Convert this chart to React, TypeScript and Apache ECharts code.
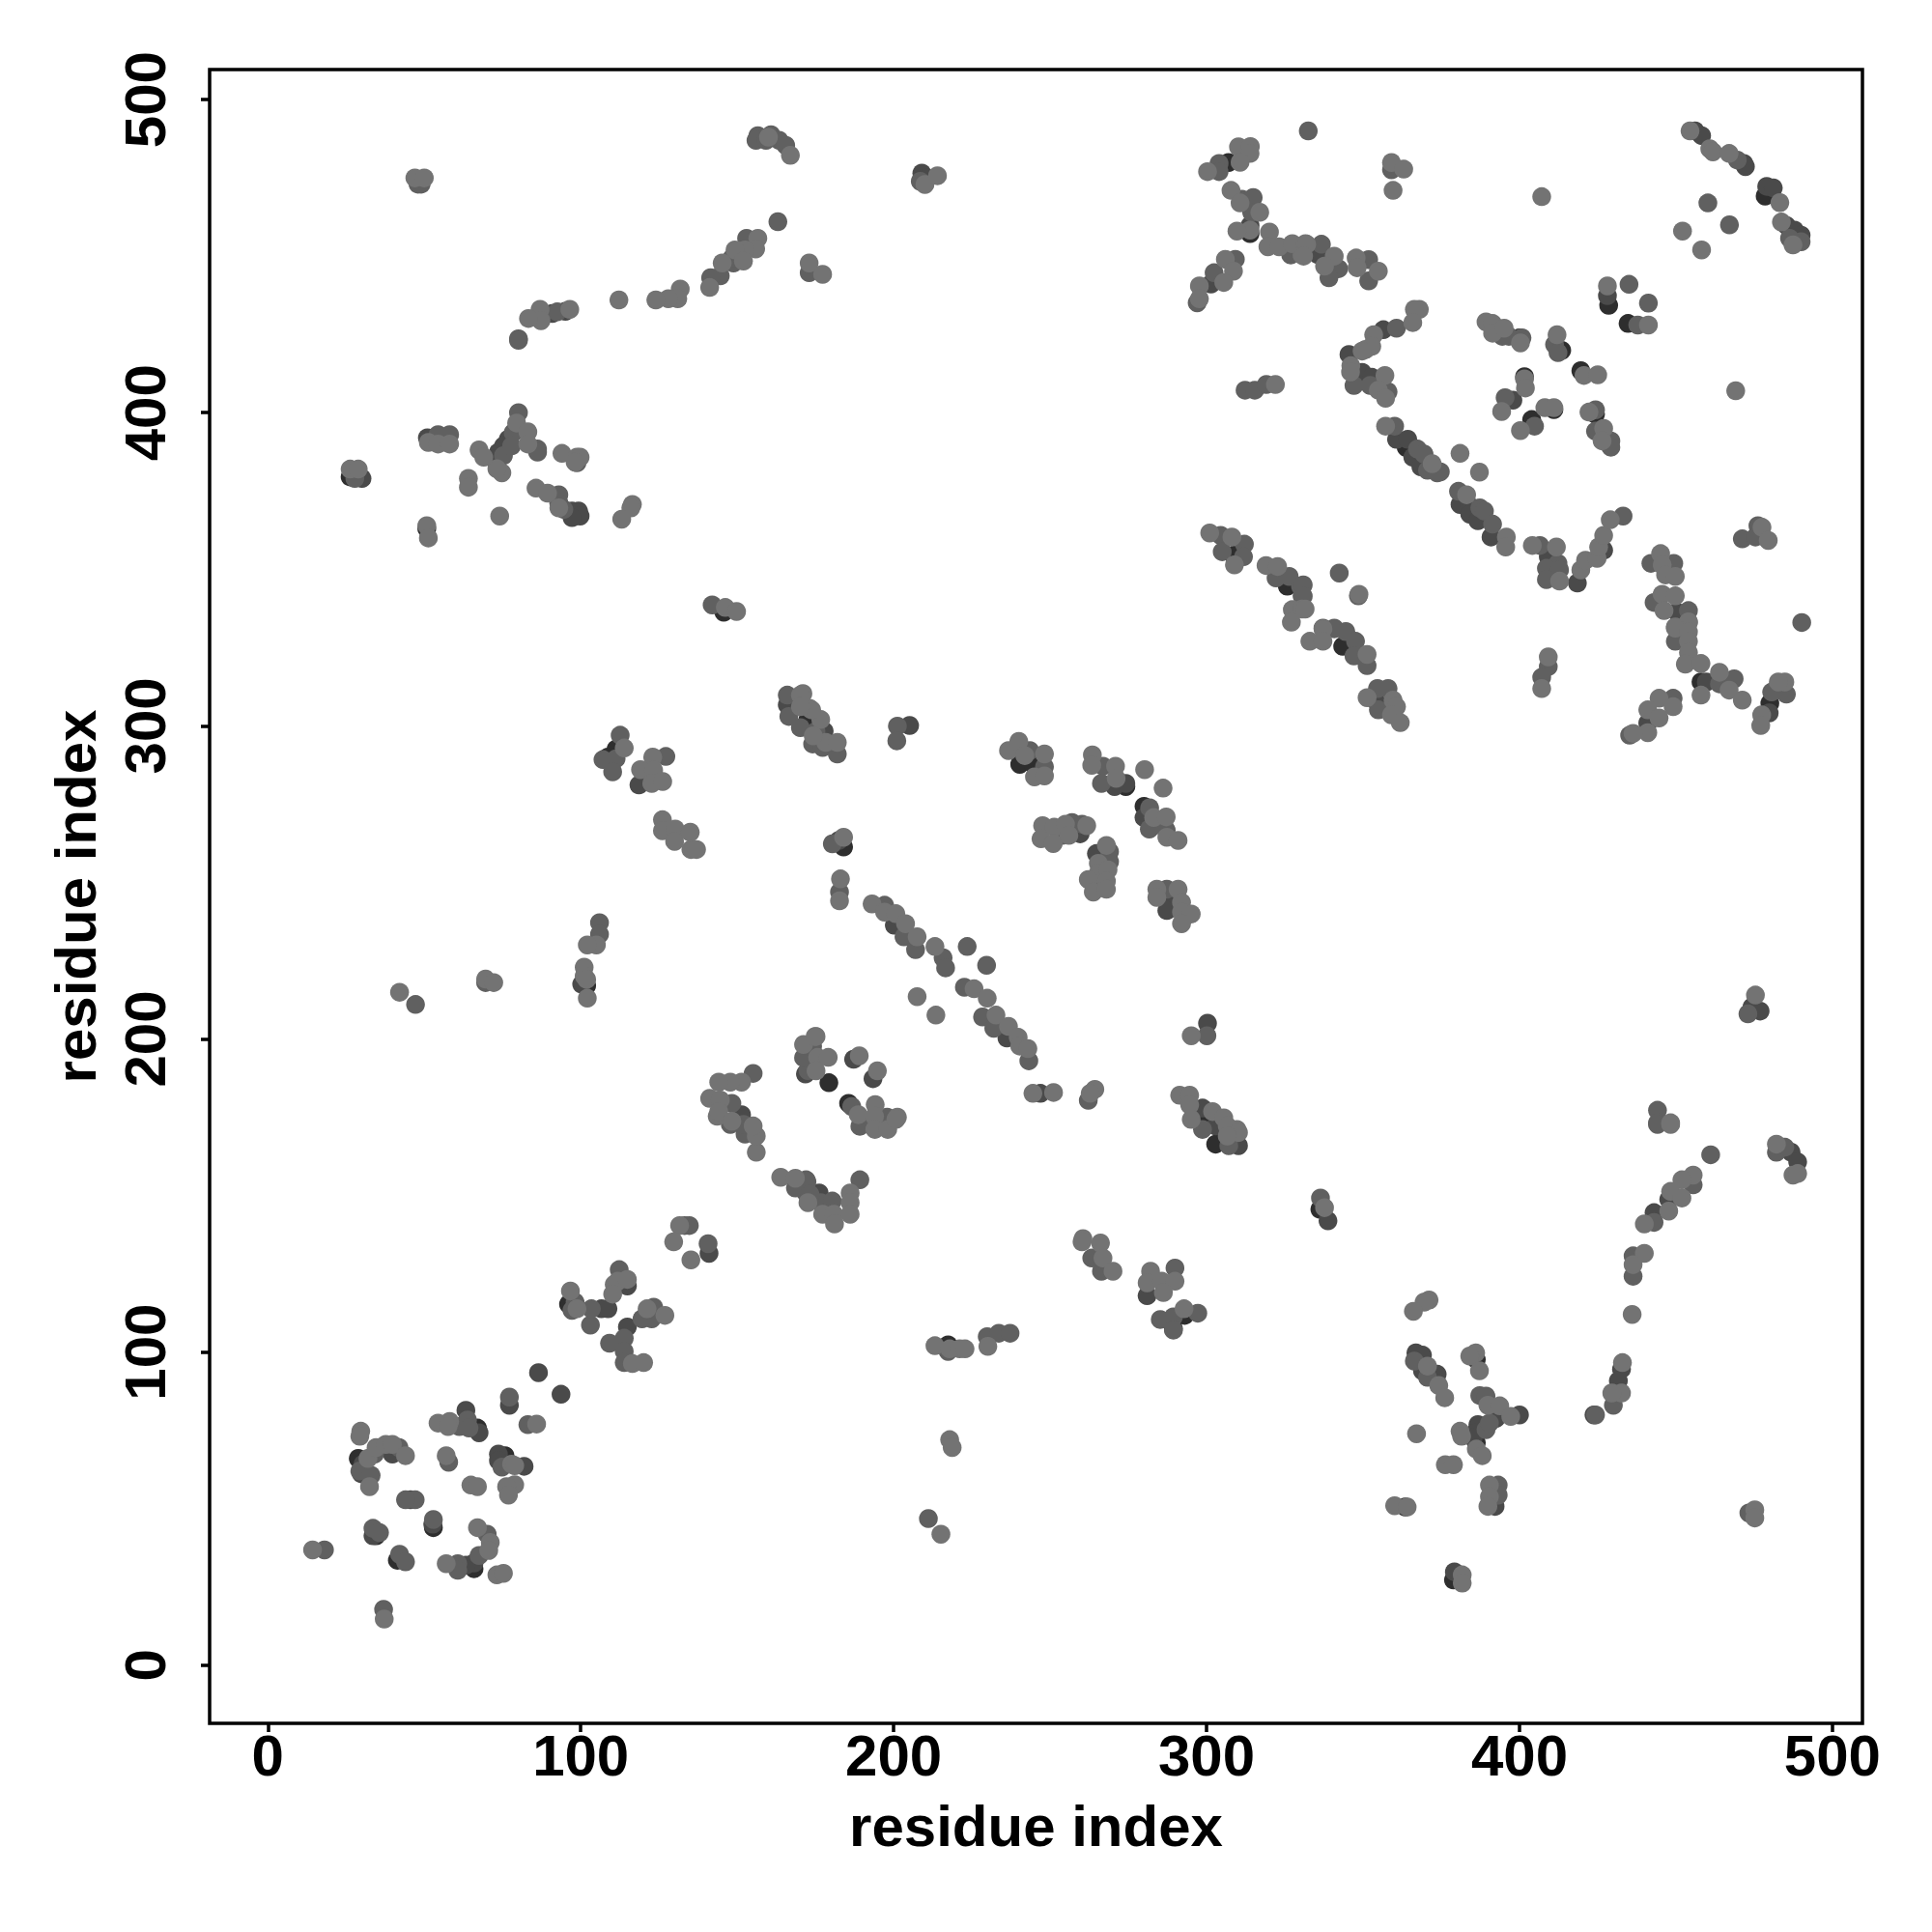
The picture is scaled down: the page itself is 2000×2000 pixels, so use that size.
import React, { useEffect, useRef } from "react";
import * as echarts from "echarts";

const tickValues = [0, 100, 200, 300, 400, 500];
const axisTitle = "residue index";

const hiddenDarkPoints = [
[145.7,336.3],[307,479.9],[313.9,457.2],[325.8,344.6],[308.6,354.5],[400,423.9],[413.5,419.9],[419.6,413.4],[401.6,411.5],[411,401],[403.9,397.8],[424.3,399.5],[428.5,434.3],[434.7,428.5],[478.5,469.2],[363.8,388.9],[343.5,325.4],[458,314],[480,307.2],[172.6,302],[240.3,287.7],[244.5,287.9],[274.2,280.6],[280,274.3],[184,261.3],[299.3,173.7],[302.9,166.4],[336.2,145.6],[289.4,107.5],[293,111.7],[217.4,102.3],[363.5,50.5],[378.9,27.2],[386.2,71],[386.2,97.6],[101.9,217],[111.3,292.6],[108.7,290],[28.9,66],[34.6,41.3],[41.4,33.5],[52.9,43.9],[67,75.7],[75.8,66.9],[65.9,30.8],[96.1,115.3],[185.6,179.4],[179.3,186],[26.3,379.5],[50.8,363]
];

const midPoints = [
[48,473],[49,473],[156.6,488.5],[156,487],[160.8,488.8],[159.2,487],[163.4,487],[165.5,485.4],[163,461],[153,455.7],[148.8,447.8],[148.3,449.4],[144.6,443.7],[141.5,443.1],[92.5,432.2],[87.8,431.7],[80.1,423.6],[80.1,423.1],[80.1,400],[78.4,393.6],[75.3,386.3],[77.9,389.4],[86.2,388.4],[86.2,387.4],[98.8,384],[54.4,393],[58.1,393],[27.8,379],[93,373.8],[93,371.2],[94.6,369.1],[142,338.6],
[332.5,490],[173,444.7],[208.5,473.9],[304,479.6],[304,477],[311.3,468.2],[314.9,468.7],[314.4,464],[326.9,450.4],[309.2,449],[302.4,444.7],[297,435.1],[312.3,407.2],[315.4,407.2],[319.1,409],[304.5,360.8],[305,355.6],[312.1,358],[311.8,354],[322.2,347.2],[326.4,347.7],[330,344.6],[330.5,341.5],
[359.1,477.6],[336.7,453.8],[342.2,446],[339.1,443.1],[351.8,448.9],[351.8,442.1],[360.7,427],[347.1,408.7],[352.3,408.7],[358,406.7],[360.1,395.7],[367.4,388.4],[369.5,386.8],[370.6,381.6],[373.7,380.8],[374.7,381.1],[380.5,374.9],[387.3,369.6],[388.8,368.6],[391.4,364.4],[406.5,357.6],[412.3,351.9],[408.6,350.3],[412.8,349.8],[408.6,346.7],[433.1,367],[342.4,348.8],[348.5,341.5],[330.9,345],[330.9,341.4],[340.8,331],[394.5,424.4],[396.6,424.4],[400.8,423.9],[411.2,421.8],[412.3,419.2],[395.4,404.8],[404.8,395.7],[424.3,400.9],[424.3,394.1],[429.2,391],[429.2,389],[435,441],[441.2,435],[437.8,428],[469.6,480.7],[490,454.6],[486.3,455.7],[460.2,467],[467.1,460],[471.2,359.7],[476.2,363.9],[475.4,360.3],[442,351.9],[449.3,351.9],[443,339.4],[454,336.8],
[490.2,333],[449.8,327],[463.9,313.4],[468.6,315],[449.1,308.8],[435.2,297],[485.3,310.1],[480.6,310.8],[409.2,318.9],[407.1,315.5],[337.2,331.2],[340.8,331.2],[344.5,330.1],[347.6,327],[347.1,322.3],[351.3,319.2],[354.6,311.9],[358,311.9],[354.9,305.1],[444.1,177.2],[444.1,173.2],[473,208],
[174.1,294.2],[177.3,293.1],[175.2,298.3],[182,291],[201.2,299.9],[201,295.2],[243.5,292.1],[248.2,286.9],[266.9,287.1],[266.4,281.6],[281.8,273.8],[281.7,267],[287.1,266.7],[257,269.1],[260.2,268.6],[253.9,265],[269,259.8],[269,256.6],[265.4,249.8],[287.3,247.8],[180.4,262.3],[182.7,246.9],[197.1,242.7],[203.3,232.6],[207,228.5],[215.8,225.9],[216.6,222.7],[223.5,229.5],[229.7,223.5],[222.6,216.5],[228.4,207],[232,203.4],[243.2,193],[300.1,201],[262.2,180.4],[174.1,197.7],[172.6,189.9],[186.6,178.4],[189.2,172.1],[197.9,175],
[172,155],[172,150.8],[176.7,147.7],[180.4,148.2],[189.2,155],[263.3,130],[266.4,125.8],[289.9,126.8],[285.2,110.4],[289.4,111.2],[289.4,107],[297.2,112.4],[217.4,100.2],[229.9,104.9],[233.6,106],[237.2,106],[211.1,46.8],[298.7,171.1],[307.1,165.9],
[444.1,172.7],[461.1,163],[484.8,165.4],[482.1,163.8],[455.5,153.4],[443,141.4],[436.3,130.7],[436.3,124.2],[430,83],[424.3,79.9],[336.4,149.2],[366.4,97.1],[370.6,91.9],[387.3,86.1],[389.3,85.9],[389.3,75.2],[390.4,77.3],[393.2,57.5],[393.2,54.3],[473.3,48.6],
[18.1,36.8],[37,17.8],[29.4,62],[33,60.6],[34.1,67.4],[41.9,69.5],[57.8,64.8],[33.6,43.7],[35.7,42.3],[42.1,35.4],[44,33],[47.1,52.8],[44,52.8],[52.9,46.5],[61.2,76.2],[63.8,78.3],[64.3,75.7],[74.8,63.2],[70.1,41.8],[67.5,35],[60.7,32.4],[60.7,30.3],[77.2,85.6],[83.1,76.8],
[98.2,115.9],[97.2,113.3],[103.1,108.6],[103.4,113.8],[112.3,126.3],[109.2,102.8],[123.3,114.3],[119.6,110.6],[122.7,110.6],[113.9,104.4],[113.9,100.2],[113.9,96.6],[133.2,140.4],[134.7,140.4],[140.7,134.6],[152.5,169.6],[152,172.7],[147.8,172.7],[168.6,152.4],[172.3,154.4],[173.3,150.3],
[112.6,297],[107.1,289.2],[111.3,289.5],[110.2,285.3],[127.2,290.2],[106,237.1],[106,233.4],[69.6,218],[47.2,211],[166,309.8],[166.5,303],[170.2,299.4],[155.1,189],[148.3,179.4],[171.2,194]
];

const lightPoints = [
[47,475],[50,475],[167,482.2],[160,488],[156.6,455.7],[155.9,452.3],[152.5,452],[149.3,452],[152,448.4],[145.2,447.8],[141.2,440],[131.8,439.5],[131,436.4],[128,436.4],[124,436],[112.2,436],[96.5,433],[87,433],[87.3,429.4],[83.3,430.1],[79.5,396.7],[74.8,380.8],[73.2,382.1],[67.5,388.1],[69,385.8],[83.1,393.9],[83.1,390],[94,387],[98.8,385.8],[99.8,385.8],[98.2,384.2],[51.3,390.5],[54.4,390],[58.1,390],[26.3,382],[28.9,382],[64.1,379],[64.1,376.2],[74.1,367],[50.8,363.9],[51.3,360],[85.7,375.9],[89.4,374.3],[93,369.6],[116.5,370.7],[116,369.6],[113.1,366],[146.2,337.8],[149.8,336.5],
[173,447.8],[177.3,444.2],[210,472.9],[214,475.7],[300.3,477],[310.2,484.9],[314,485],[313.9,482.8],[310.7,480],[307.8,471],[310.7,467],[317,464],[313.9,458.3],[309.7,458],[320.1,457.7],[319.6,453],[323.2,453],[327.4,454],[330.5,450.4],[331.6,454],[306,449],[308.6,445.2],[305.5,441.6],[297.7,440.5],[297.7,436.4],[322,409],[301,361.6],[308.1,360.3],[308.9,351.4],[319,351.2],[322.7,350.9],[327.4,337.1],[330.5,337.3],[327.1,333.1],
[359.1,479.9],[363,477.8],[359.6,471],[332,453.8],[331,450],[340.8,450],[337.7,446.8],[347.8,449.4],[348.1,446.3],[354.9,445.2],[368,433],[366.4,433],[365.9,428.8],[353.4,424.9],[350.8,420.2],[352.8,421.2],[349.7,419.7],[346.1,415],[346,413],[357,411.9],[354.9,407.2],[357.2,404.6],[357.2,395.7],[372.1,383.7],[381,387],[387.2,381],[383.1,373.8],[395.8,360.3],[395.6,357.1],[404.1,357.6],[411.8,357.1],[412.8,346.2],[419.6,349.8],[421.1,352.9],[424.8,353.5],[425.3,357.1],[426.9,360.8],[429,365.8],[348.7,342],[331.5,337.3],[337.2,331],
[389.3,429],[391.4,428.5],[391.4,425.4],[395.1,427],[400.3,422.3],[412,424.9],[420.6,411.9],[425,412.1],[401.6,410.8],[401.9,407.9],[394.3,400.4],[408.1,401.6],[411,401.6],[400.3,394.3],[422.2,400.2],[426.9,395],[426.4,391],[428.1,440.5],[441.2,428],[454.5,490],[460.8,484.3],[461.8,483.3],[467,482.8],[483.2,467.1],[483.7,460.9],[487.4,453.6],[452.1,458],[458.2,452],[407.1,469],[469.1,407],[477.5,363.4],[479.5,359.2],[445.1,355],[445.6,351.4],[446.7,348.2],[449.8,347.7],[445.6,342],[449.8,341.5],[446.2,336.8],[454,333],[449.8,331.6],
[454,333.2],[449.8,331.2],[454,330],[454,327],[454,323.4],[453,319.7],[458,319.9],[458,309.8],[463.9,317.1],[467,311.4],[471.2,308.2],[444.6,308.8],[449.1,306.1],[441,305.1],[444.6,302.5],[441,297.8],[436.3,297.6],[484.8,314],[482.7,314],[477.4,303.5],[477.1,300.1],[409.2,322],[407.1,311.9],[333,327],[337.2,327],[351.3,322.8],[351.3,309],[359.6,308.2],[360.7,306.1],[359.1,303.5],[361.9,301],[448.3,173.2],[475.4,214],
[171,310.3],[173.1,305.6],[176.7,302],[178.3,294.7],[182,294.7],[171,306.7],[236.7,292.1],[240,295],[248.2,291],[245,283.7],[248.2,284],[241.9,290.5],[263.5,290.7],[263.3,287.4],[270.9,287.1],[271.1,283.2],[280.2,286],[286.1,280.1],[283.1,270.7],[287.1,270.9],[287.3,264.4],[290.9,263.4],[247.6,268.1],[247.1,263.9],[251.3,267.6],[251,262.4],[254.9,268.6],[261.7,268.1],[256,265],[268,261.8],[265.4,256.1],[265.4,253],[268.5,254],[262.2,250.9],[268,250.4],[263.8,246.9],[268,247.8],[284.1,247.8],[284.1,245.2],[290.9,247.8],[292,243.6],[292,240.5],[295.1,239.9],[292,236.8],[184,264.4],[183,251.1],[182.7,244.1],[193.1,243.1],[197.1,240.5],[200.7,240],[203.8,236.8],[207.5,232.6],[213.2,229.5],[207.5,213.5],[213.5,207.6],[225.7,216],[229.9,213],[232.7,207.6],[236.7,204],[239.8,200.5],[240.3,197.7],[242.9,196.9],[295.1,201],[244.5,182.6],[251.1,182.9],[264.3,183.9],[262.8,182.6],[291.4,182],[294.6,182],[294.6,178.9],[301.9,176.8],[305.5,174.8],[309.7,171.1],
[175.2,200.8],[175.7,194.1],[179.1,194.1],[175.2,189.8],[189,194.6],[194.8,189.8],[188.7,175.8],[194.1,179],[193.9,175.3],[201.2,175],[194,171.1],[198.1,171.1],[200.7,174.3],[172.6,147.7],[177.3,144],[180.9,144],[181.1,140.9],[186.1,150.8],[186.1,147.7],[186.1,144],[260.5,136.2],[260.2,135.2],[266.1,134.8],[266.9,130],[270.1,125.8],[282.1,125.8],[281,122.1],[285.7,122.6],[289.9,122.6],[286.2,119],[292.8,113.8],[213.2,102],[217.9,101],[221.1,101],[222.8,101],[230.1,101.8],[217.9,72],[218.7,69.5],[215.1,41.8],[295.1,174.3],[306.6,172.2],[310.2,170.1],[306.6,169],
[448.3,172.7],[482.1,166.4],[487.4,156.5],[488.9,157],[455.5,156.5],[451.9,155],[448.3,151.3],[451.9,149.2],[447.7,145],[439.9,140.9],[439.9,131.5],[436.3,127.9],[436,112],[432.9,96.6],[432.6,86.9],[429.5,86.9],[337.7,146.1],[371.1,116.6],[369.5,115.9],[366.1,113],[370.6,95.5],[374.2,89.3],[376.1,85.4],[386,99.7],[384.1,98.7],[387.2,94],[367.1,73.9],[389.9,83],[393.7,82.8],[397.2,79.4],[381,74.7],[381.5,73.1],[386.2,69],[388.1,66.9],[376.3,64],[378.9,64],[390.4,57.5],[390.4,53.8],[389.9,50.7],[360.1,50.9],[364.1,50.5],[475.2,49.6],[475.2,47],[381.7,28.8],[381.7,26.2],
[14.3,36.8],[37.2,14.7],[29.7,74.7],[29.4,73.1],[32.5,57],[32,66],[34.6,69.5],[37.7,70.5],[39.8,70.5],[44,66.9],[57,66.9],[54.4,77.3],[58.1,77.8],[57.6,76.2],[64.9,57.5],[67,57],[77.9,64.2],[78.9,63.7],[78.9,57.6],[76.3,57],[76.9,54.3],[67,43.9],[71.1,39.2],[70.6,36.6],[57,32.4],[73.2,28.8],[75.3,29.3],[85.9,77],
[96.7,119.5],[98.8,113.8],[110.7,121.6],[111.8,122.6],[114.9,123.2],[110.2,118.5],[121.2,113.8],[126.9,111.7],[116.5,96.3],[120.1,96.6],[131.6,140.4],[129.7,135.2],[135.2,129.4],[156.1,163.8],[156.1,169],[143.6,175.3],[163.9,155.8],[168.6,155.5],
[113.9,292.9],[123,290],[119.1,286],[123.3,285.8],[122.7,281.6],[126.2,282.2],[126.1,270],[126.1,266.5],[130.2,267],[130,263.1],[135,266],[135.2,260.5],[137,260.5],[105,230],[102.1,230],[101.1,222.9],[101.1,220.1],[101.9,219],[102.1,213],[69.6,219.1],[72.2,218],[42.1,214.9],[170.2,309.8],[173.8,305.1],[170.2,306.1],[174.3,296.8],[151.4,186.2],[147.8,186.2],[144.1,186.2],[141.2,181],[144.6,180.5],[144.1,176.8],[148.3,173.7],[155.1,172.2],[171.2,198.2],[174.9,200.8]
];

const darkPoints = [
[95.1,432.4],[90.9,431.7],[76.8,391.5],[75.3,389.4],[73.7,387.4],[72.2,385.3],[51,392],[30.1,379],[93,371],[97.2,368.6],[99.3,368.6],[99.8,367],[97.2,366.5],[209,476.5],[210.6,475],[313.9,459.8],[301.4,441.1],
[335.6,450.5],[356.5,426.5],[345.5,418.6],[349.7,412.9],[352.8,411.3],[360.7,391.5],[364.3,391.5],[365.9,385.8],[368.5,382.7],[381,370.7],[384.1,370.2],[384.1,367.6],[386.7,365.5],[390.9,360.3],[409.2,354],[418.5,345.6],[426.9,356.1],[397.9,404],[428.1,437.4],[456.1,490],[458.2,488.5],[471.7,479.6],[472.2,478.6],[479,472.3],[481.1,471.8],[485.3,459.8],[487.9,458.3],[490,456.7],[450.3,336.3],[459.7,314],[441,300.9],[479.8,304.1],[353.9,308.2],[474.3,210.2],[476.9,208.9],
[177.8,298.3],[205.1,300.1],[270.6,280.6],[274.2,281.6],[280,270.7],[259.6,265.5],[264.8,259.2],[287.3,244.1],[287.3,241],[182.5,263.4],[200.2,236.3],[300.3,205],[246.9,182.6],[298.7,177.9],[187.2,193.5],[193.4,187.3],[176.2,150.8],[281,118],[302.9,172.2],[310.2,165.9],[236.2,200.3],
[486.8,163.8],[488.9,160.7],[447.7,148.7],[443,144.5],[432.6,94.5],[431.6,90.8],[423.8,79.9],[338.8,141.9],[366.9,99.7],[369,99],[369,94],[373.7,92.9],[392.5,78.8],[400,79.9],[386.7,76.8],[385.7,74.1],[385.2,72.6],[392.2,50.7],[379.2,29.8],
[30.4,64.2],[29.9,61.1],[39.8,67.4],[33.6,41.3],[45.6,52.8],[52.7,45],[63.3,81.4],[67.5,74.2],[73.7,67.4],[73.7,65.3],[81.9,63.5],[65.9,32.6],[63.3,31.9],[77.2,83],[86.5,93.4],[93.7,86.5],[106.6,113.8],[108.7,113.8],[114.9,121.1],[114.9,108],[141,131.5],[151.4,175.8],[118.6,281.1],[100.3,217.5],[166,306.7],[171.8,188.8]
];

const shadeLayers: [number[][], string][] = [
  [hiddenDarkPoints, "#2e2e2e"],
  [darkPoints, "#4a4a4a"],
  [midPoints, "#606060"],
  [lightPoints, "#737373"],
];

const FONT = "Liberation Sans";

export default function App() {
  const ref = useRef<HTMLDivElement>(null);
  useEffect(() => {
    const chart = echarts.init(ref.current!, null, { renderer: "svg" });
    const labelStyle = { fontFamily: FONT, fontWeight: "bold" as const, fontSize: 60, color: "#000" };
    const axisBase = {
      type: "value" as const,
      min: -18.6,
      max: 509.6,
      name: axisTitle,
      nameLocation: "middle" as const,
      nameTextStyle: labelStyle,
      splitLine: { show: false },
      axisLine: { show: false, onZero: false },
      axisTick: { show: true, length: 9, customValues: tickValues, lineStyle: { color: "#000", width: 3.5 } },
    };
    chart.setOption({
      animation: false,
      backgroundColor: "#fff",
      grid: { left: 217, top: 72, width: 1711, height: 1712, show: true, borderColor: "#000", borderWidth: 3.5, backgroundColor: "#fff" },
      xAxis: {
        ...axisBase,
        nameGap: 76,
        axisLabel: { ...labelStyle, margin: 3, customValues: tickValues },
      },
      yAxis: {
        ...axisBase,
        nameGap: 109,
        axisLabel: { ...labelStyle, rotate: 90, margin: 37, customValues: tickValues },
      },
      series: shadeLayers.map(([data, color]) => ({
        type: "scatter",
        data,
        symbol: "circle",
        symbolSize: 19.5,
        silent: true,
        itemStyle: { color, opacity: 1 },
      })),
    });
    return () => chart.dispose();
  }, []);
  return <div ref={ref} style={{ position: "absolute", left: 0, top: 0, width: 2000, height: 2000 }} />;
}
